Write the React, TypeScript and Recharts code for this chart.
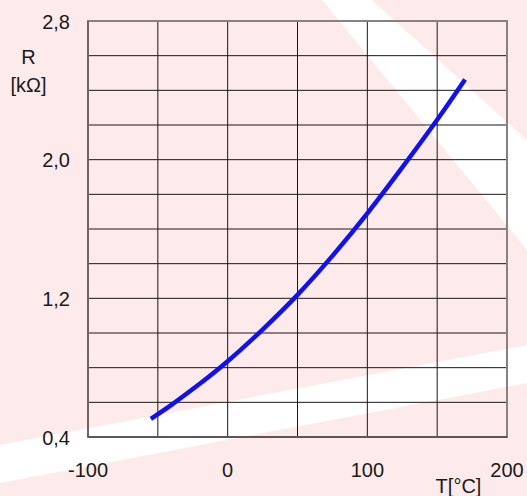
import React from "react";
import { LineChart, Line, XAxis, YAxis, CartesianGrid, ReferenceArea } from "recharts";

const temps = [-55, -40, -20, 0, 25, 50, 75, 100, 125, 150, 170];
const resistance = [0.505, 0.587, 0.707, 0.837, 1.02, 1.22, 1.445, 1.69, 1.955, 2.23, 2.463];

const xTicks = [-100, -50, 0, 50, 100, 150, 200];
const xLabelled = [-100, 0, 100, 200];
const yTicks = [0.4, 0.6, 0.8, 1.0, 1.2, 1.4, 1.6, 1.8, 2.0, 2.2, 2.4, 2.6, 2.8];
const yLabelled = [0.4, 1.2, 2.0, 2.8];

const data = temps.map((t, i) => ({ t, r: resistance[i] }));

const FONT = '"Liberation Sans", Arial, sans-serif';
const INK = "#1a1a1a";

function XTick({ x, y, payload }: any) {
  if (!xLabelled.includes(payload.value)) return null;
  return (
    <text x={x} y={y + 40} textAnchor="middle" fontSize={20} fontFamily={FONT} fill={INK}>
      {payload.value}
    </text>
  );
}

function YTick({ x, y, payload }: any) {
  const v = payload.value;
  if (!yLabelled.some((l) => Math.abs(l - v) < 1e-6)) return null;
  return (
    <text x={x - 18} y={y + 7.5} textAnchor="end" fontSize={20} fontFamily={FONT} fill={INK}>
      {v.toFixed(1).replace(".", ",")}
    </text>
  );
}

export default function App() {
  return (
    <div
      style={{
        position: "fixed",
        left: 0,
        top: 0,
        width: 527,
        height: 496,
        background: "#fdeaea",
        overflow: "hidden",
        fontFamily: FONT,
      }}
    >
      {/* faint watermark stripes behind the chart */}
      <svg width={527} height={496} style={{ position: "absolute", left: 0, top: 0 }}>
        <polygon points="322,0 372,0 527,140 527,250" fill="#ffffff" />
        <polygon points="0,445 527,345 527,383 0,483" fill="#ffffff" />
      </svg>

      <div style={{ position: "absolute", left: 0, top: 0 }}>
        <LineChart width={527} height={496} data={data} margin={{ top: 21, right: 20, bottom: 29, left: 28 }}>
          <CartesianGrid stroke="#1e1616" strokeWidth={1} />
          <XAxis
            type="number"
            dataKey="t"
            domain={[-100, 200]}
            ticks={xTicks}
            height={30}
            tickSize={0}
            tickMargin={0}
            tickLine={false}
            axisLine={{ stroke: "#5e5656", strokeWidth: 2 }}
            tick={<XTick />}
            interval={0}
          />
          <YAxis
            type="number"
            domain={[0.4, 2.8]}
            ticks={yTicks}
            width={60}
            tickSize={0}
            tickMargin={0}
            tickLine={false}
            axisLine={{ stroke: "#6e6464", strokeWidth: 2 }}
            tick={<YTick />}
            interval={0}
          />
          <ReferenceArea x1={-100} x2={200} y1={0.4} y2={2.8} fill="none" stroke="#8a8080" strokeWidth={2} />
          <Line
            type="natural"
            dataKey="r"
            stroke="#1010f0"
            strokeWidth={4.5}
            dot={false}
            isAnimationActive={false}
          />
        </LineChart>
      </div>

      <svg width={527} height={496} style={{ position: "absolute", left: 0, top: 0, pointerEvents: "none" }}>
        <text x={28.5} y={64} textAnchor="middle" fontSize={20} fontFamily={FONT} fill={INK}>
          R
        </text>
        <text x={28.5} y={91.5} textAnchor="middle" fontSize={20} fontFamily={FONT} fill={INK}>
          [kΩ]
        </text>
        <text x={458.5} y={493} textAnchor="middle" fontSize={20} fontFamily={FONT} fill={INK}>
          T[°C]
        </text>
      </svg>
    </div>
  );
}
